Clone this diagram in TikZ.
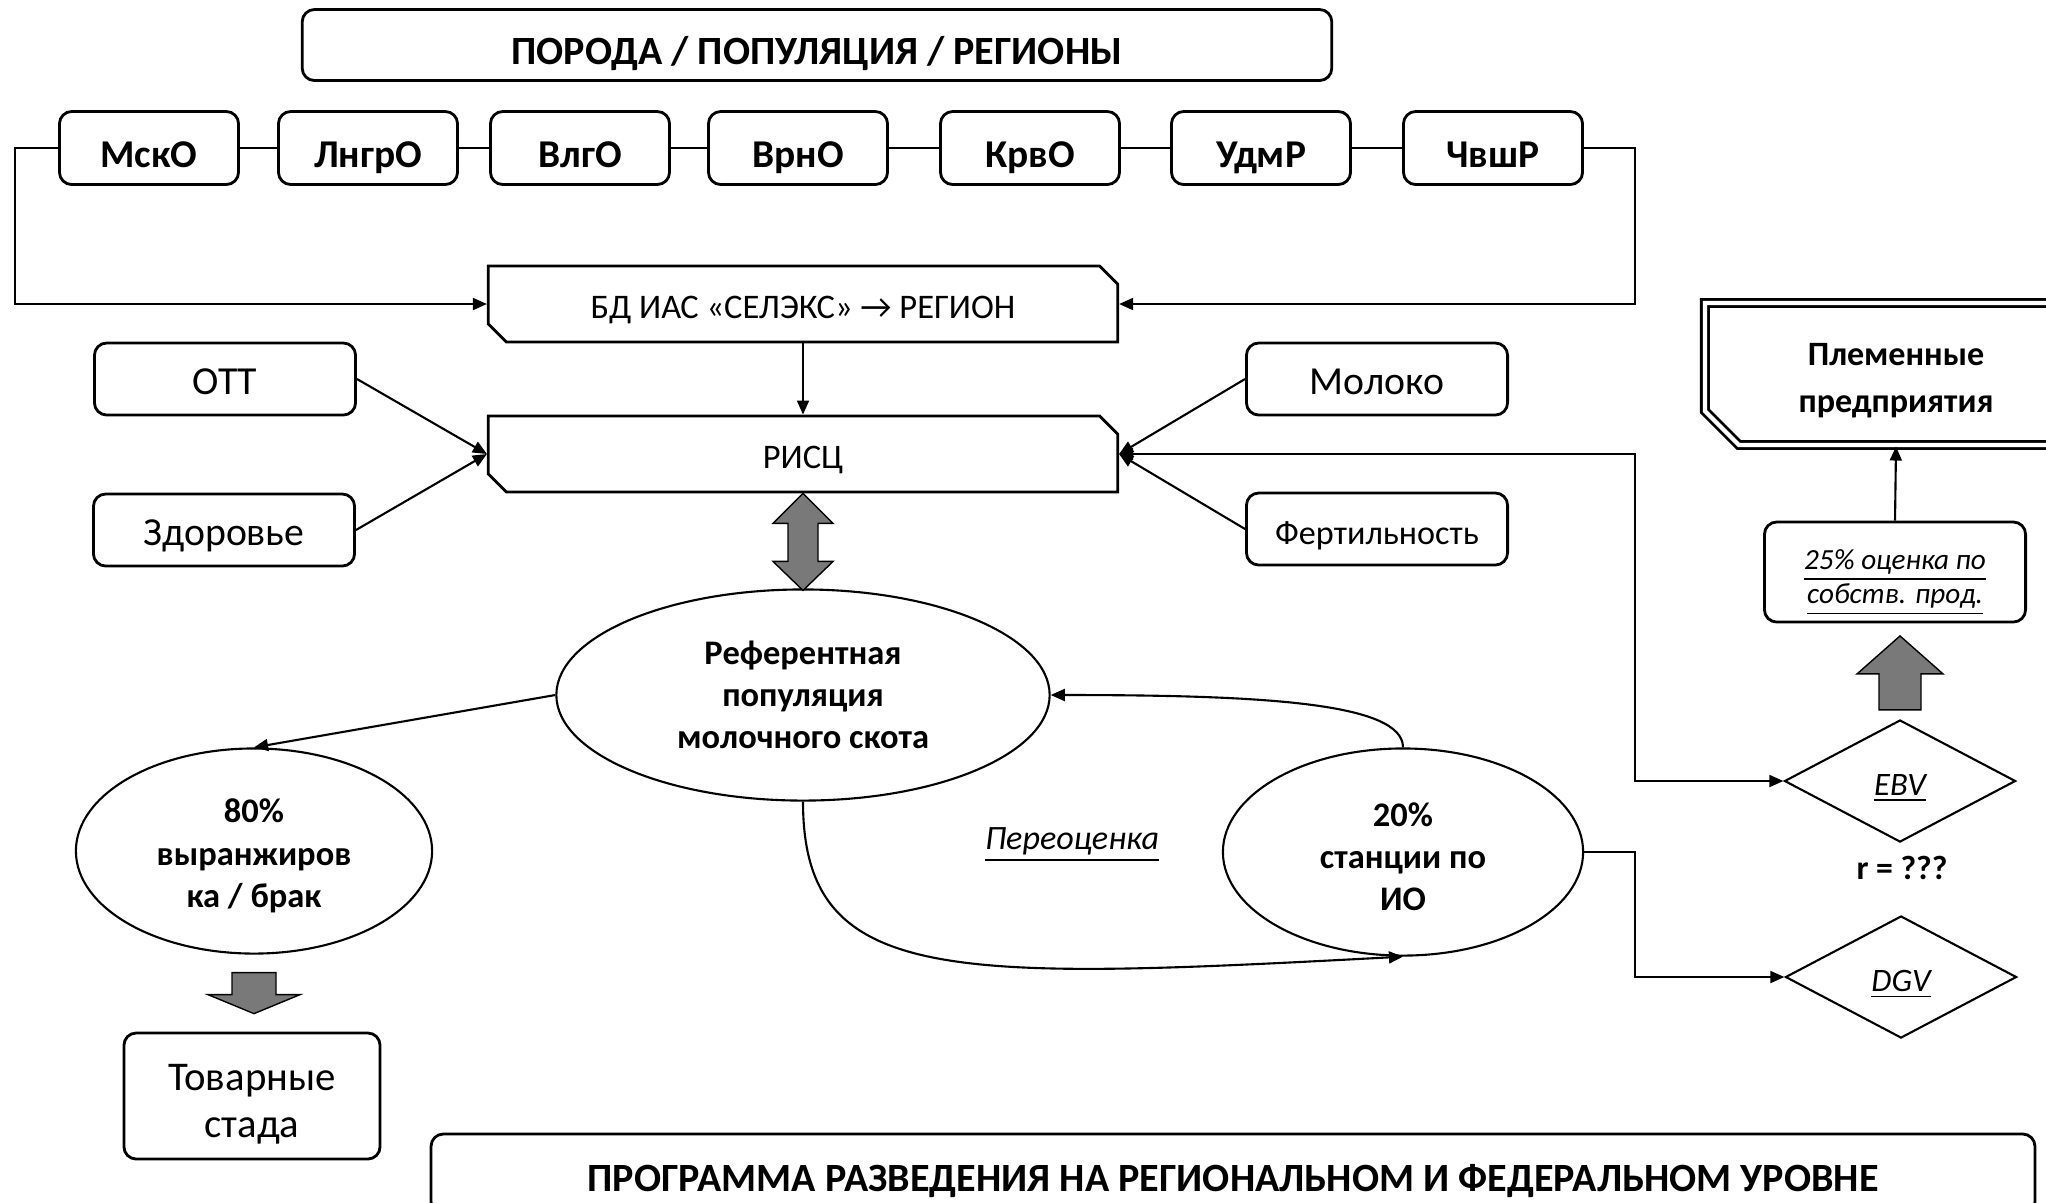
\documentclass[tikz,border=0pt]{standalone}
\usepackage{fontspec}
\setmainfont{Carlito}
\usetikzlibrary{arrows.meta,positioning,calc,shapes.geometric,shapes.misc}

\tikzset{
  arr/.style={semithick,-{Triangle[length=4pt,width=3.4pt]}},
  link/.style={thin},
  rbox/.style={draw,thick,rounded corners=3.5pt,inner sep=0pt,align=center},
  regbox/.style={rbox,minimum width=1.79cm,minimum height=0.73cm,text height=11.5pt,text depth=0.5pt,font=\fontsize{11.2}{13}\selectfont\bfseries},
  factbox/.style={rbox,minimum width=2.61cm,minimum height=0.72cm,text height=10pt,text depth=1pt},
  snipbox/.style={draw,thick,chamfered rectangle,chamfered rectangle corners={north east,south west},
    chamfered rectangle xsep=0.09cm,chamfered rectangle ysep=0.09cm,inner sep=0pt,text height=9pt,text depth=1pt,
    minimum width=6.29cm,minimum height=0.76cm,font=\fontsize{9.8}{12}\selectfont},
  oval/.style={draw,semithick,ellipse,inner sep=0pt,align=center,font=\fontsize{9.8}{12}\selectfont\bfseries},
  rhomb/.style={draw,semithick,diamond,inner sep=0pt,minimum width=2.31cm,minimum height=1.22cm,text height=9pt,text depth=1pt,font=\fontsize{9.3}{11}\selectfont\itshape},
  blockarr/.style={draw,thin,fill=gray!95!black},
}

\begin{document}
\begin{tikzpicture}[x=0.01cm,y=-0.01cm]
\useasboundingbox (0,0) rectangle (2046,1202);

% top row
\node[rbox,minimum width=10.29cm,minimum height=0.71cm,text height=11.5pt,text depth=0.5pt,font=\fontsize{11.4}{13}\selectfont\bfseries] (breed) at (817,45) {ПОРОДА / ПОПУЛЯЦИЯ / РЕГИОНЫ};
\node[regbox] (msk) at (149,148) {МскО};
\node[regbox] (lngr) at (368,148) {ЛнгрО};
\node[regbox] (vlg) at (580,148) {ВлгО};
\node[regbox] (vrn) at (798,148) {ВрнО};
\node[regbox] (krv) at (1030,148) {КрвО};
\node[regbox] (udm) at (1261,148) {УдмР};
\node[regbox] (chv) at (1493,148) {ЧвшР};
\foreach \a/\b in {msk/lngr,lngr/vlg,vlg/vrn,vrn/krv,krv/udm,udm/chv}{\draw[link] (\a.east) -- (\b.west);}

% databases
\node[snipbox] (bd) at (803,304) {БД ИАС «СЕЛЭКС» → РЕГИОН};
\node[snipbox] (risc) at (803,454) {РИСЦ};
\draw[arr] (msk.west) -- ++(-43,0) |- (bd.west);
\draw[arr] (chv.east) -- ++(51,0) |- (bd.east);
\draw[arr] (bd.south) -- (risc.north);

% traits
\node[factbox,font=\fontsize{11.3}{13}\selectfont] (ott) at (225,379) {ОТТ};
\node[factbox,font=\fontsize{11.3}{13}\selectfont] (zdor) at (224,530) {Здоровье};
\node[factbox,font=\fontsize{11.3}{13}\selectfont] (milk) at (1377,379) {Молоко};
\node[factbox,font=\fontsize{9.7}{12}\selectfont] (fert) at (1377,529) {Фертильность};
\draw[arr] (ott.east) -- (risc.west);
\draw[arr] (zdor.east) -- (risc.west);
\draw[arr] (milk.west) -- (risc.east);
\draw[arr] (fert.west) -- (risc.east);

% populations
\node[oval,minimum width=4.93cm,minimum height=2.11cm] (ref) at (803,695) {Референтная\\популяция\\молочного скота};
\node[oval,minimum width=3.56cm,minimum height=2.05cm] (cull) at (254,851) {\rule{0pt}{9.5pt}80\%\\выранжиров\\ка / брак};
\node[oval,minimum width=3.6cm,minimum height=2.07cm] (test) at (1403,852) {\rule{0pt}{9.5pt}20\%\\станции по\\ИО};
\draw[blockarr] (risc.south) -- ++(30,30) -- ++(-15,0) -- ++(0,38) -- ++(15,0) -- ++(-30,29) -- ++(-30,-29) -- ++(15,0) -- ++(0,-38) -- ++(-15,0) -- cycle;
\draw[arr] (ref.west) -- (cull.north);
\draw[arr] (test.north) .. controls +(0,-45) and +(210,0) .. (ref.east);
\draw[arr] (ref.south) .. controls +(0,184) and +(-453,24) .. (test.south);
\node[font=\fontsize{9.7}{12}\selectfont\itshape] (reval) at (1072,845) {\underline{Переоценка}};

% commercial herds
\node[rbox,minimum width=2.56cm,minimum height=1.26cm,font=\fontsize{11.6}{13.3}\selectfont] (herd) at (252,1096) {\rule{0pt}{12pt}Товарные\\стада};
\draw[blockarr] ($(cull.south)+(0,18)$) -- ++(22,0) -- ++(0,22) -- ++(24,0) -- ++(-46,19) -- ++(-46,-19) -- ++(24,0) -- ++(0,-22) -- cycle;

% breeding values
\node[rhomb] (ebv) at (1900,781) {\underline{EBV}};
\node[rhomb] (dgv) at (1901,977) {\underline{DGV}};
\node[font=\fontsize{9.6}{12}\selectfont\bfseries] (corr) at (1902,868) {r = ???};
\draw[{Triangle[length=4pt,width=3.4pt]}-{Triangle[length=4pt,width=3.4pt]},semithick] (risc.east) -- ++(516,0) |- (ebv.west);
\draw[arr] (test.east) -- ++(51,0) |- (dgv.west);
\node[rbox,minimum width=2.61cm,minimum height=1.0cm,font=\fontsize{8.3}{9.8}\selectfont\itshape] (own) at (1895,572) {\rule{0pt}{11.5pt}\underline{25\% оценка по}\\\underline{собств. прод.}};
\draw[blockarr] ($(ebv.north)+(0,-9)$) -- ++(21,0) -- ++(0,-36) -- ++(22,0) -- ++(-43,-38) -- ++(-43,38) -- ++(22,0) -- ++(0,36) -- cycle;
\node[draw,double,double distance=1.2pt,thick,chamfered rectangle,chamfered rectangle corners={north east,south west},
  chamfered rectangle xsep=0.17cm,chamfered rectangle ysep=0.17cm,inner sep=0pt,minimum width=3.82cm,minimum height=1.42cm,
  align=center,font=\fontsize{9.7}{13.2}\selectfont\bfseries] (plem) at (1896,374) {\rule{0pt}{10pt}Племенные\\предприятия};
\draw[arr] (own.north) -- (plem.south);

% bottom
\node[rbox,minimum width=16.03cm,minimum height=0.8cm,text height=10.5pt,text depth=0.5pt,font=\fontsize{11.4}{13}\selectfont\bfseries] (prog) at (1233,1174) {ПРОГРАММА РАЗВЕДЕНИЯ НА РЕГИОНАЛЬНОМ И ФЕДЕРАЛЬНОМ УРОВНЕ};
\end{tikzpicture}
\end{document}
